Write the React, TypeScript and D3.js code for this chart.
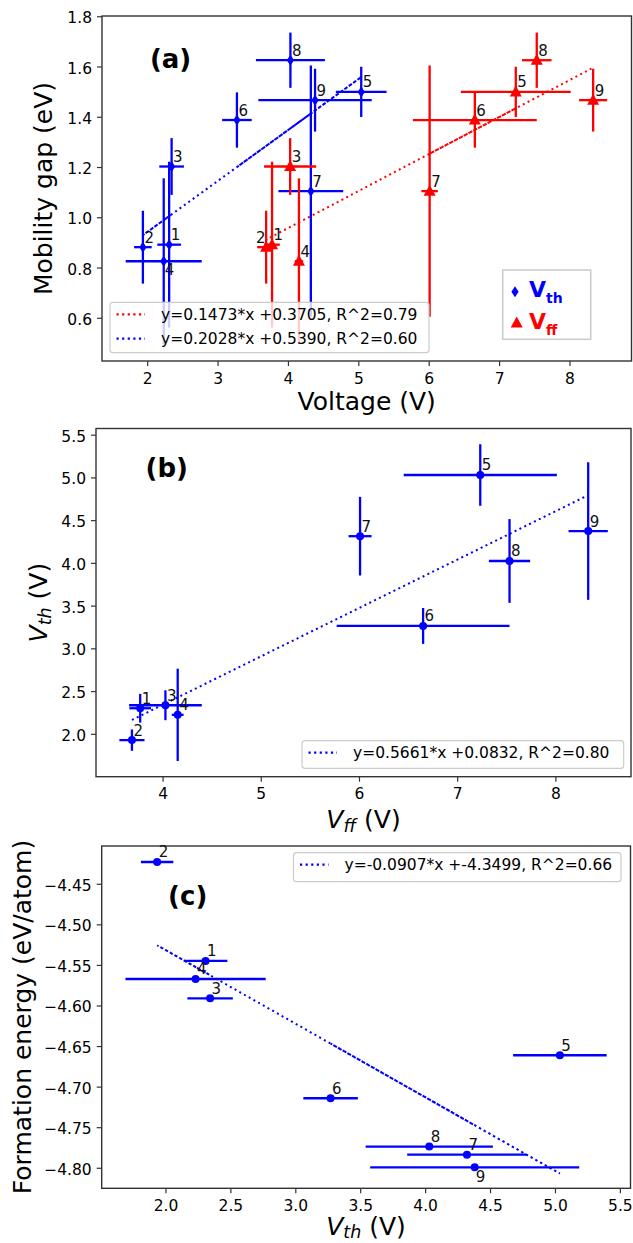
import * as d3 from "d3";
import React from "react";

// sample ids 1..9
const ids = ["1", "2", "3", "4", "5", "6", "7", "8", "9"];
// threshold voltage Vth (V) and its spread
const vth = [2.305, 1.932, 2.34, 2.228, 5.034, 3.268, 4.318, 4.028, 4.378];
const vthErr = [0.168, 0.125, 0.175, 0.54, 0.36, 0.21, 0.46, 0.49, 0.805];
// Vff (V)
const vff = [3.767, 3.683, 4.024, 4.149, 7.23, 6.648, 6.006, 7.528, 8.329];
const vffErr = [0.11, 0.128, 0.37, 0.06, 0.78, 0.88, 0.117, 0.21, 0.2];
// mobility gap (eV)
const gap = [0.893, 0.883, 1.204, 0.827, 1.501, 1.389, 1.106, 1.627, 1.468];
const gapErr = [0.33, 0.145, 0.113, 0.33, 0.1, 0.11, 0.5, 0.11, 0.125];
// formation energy (eV/atom)
const formE = [-4.5445, -4.4225, -4.5905, -4.5667, -4.6607, -4.7137, -4.7832, -4.7733, -4.7988];

// linear fits shown in the legends
const fitGapFf = [0.1473, 0.3705];
const fitGapTh = [0.2028, 0.539];
const fitThFf = [0.5661, 0.0832];
const fitEth = [-0.0907, -4.3499];

const ticksAx = [2, 3, 4, 5, 6, 7, 8];
const ticksAy = [0.6, 0.8, 1.0, 1.2, 1.4, 1.6, 1.8];
const ticksBx = [4, 5, 6, 7, 8];
const ticksBy = [2.0, 2.5, 3.0, 3.5, 4.0, 4.5, 5.0, 5.5];
const ticksCx = [2.0, 2.5, 3.0, 3.5, 4.0, 4.5, 5.0, 5.5];
const ticksCy = [-4.8, -4.75, -4.7, -4.65, -4.6, -4.55, -4.5, -4.45];

const W = 633;
const H = 1243;
const FONT = "DejaVu Sans, sans-serif";
const BLUE = "#0000ff";
const RED = "#ff0000";

const fmt1 = (d: number) => d3.format(".1f")(d);
const fmtInt = (d: number) => String(d);
const fmt2 = (d: number) => d3.format(".2f")(d).replace("-", "\u2212");

const Frame = ({ x, y, xTicks, yTicks, xFmt, yFmt }: any) => {
  const [x0, x1] = x.range();
  const [y0, y1] = y.range();
  return (
    <g fontFamily={FONT} fontSize={15.5} fill="#000">
      <rect x={x0} y={y1} width={x1 - x0} height={y0 - y1} fill="none" stroke="#333" strokeWidth={1.4} />
      {xTicks.map((t: number) => (
        <g key={"x" + t}>
          <line x1={x(t)} x2={x(t)} y1={y0} y2={y0 + 5} stroke="#333" strokeWidth={1.2} />
          <text x={x(t)} y={y0 + 22.5} textAnchor="middle">{xFmt(t)}</text>
        </g>
      ))}
      {yTicks.map((t: number) => (
        <g key={"y" + t}>
          <line x1={x0} x2={x0 - 5} y1={y(t)} y2={y(t)} stroke="#333" strokeWidth={1.2} />
          <text x={x0 - 10} y={y(t) + 6.5} textAnchor="end">{yFmt(t)}</text>
        </g>
      ))}
    </g>
  );
};

const ErrBars = ({ xs, ys, xe, ye, x, y, color }: any) => (
  <g stroke={color} strokeWidth={2.3}>
    {xs.map((v: number, i: number) => (
      <g key={i}>
        {xe && <line x1={x(v - xe[i])} x2={x(v + xe[i])} y1={y(ys[i])} y2={y(ys[i])} />}
        {ye && <line x1={x(v)} x2={x(v)} y1={y(ys[i] - ye[i])} y2={y(ys[i] + ye[i])} />}
      </g>
    ))}
  </g>
);

const diamond = "M0,-5.5L3.6,0L0,5.5L-3.6,0Z";
const triangle = "M0,-6.5L6,4.5L-6,4.5Z";

// fit line through the fitted values, in data order unless sorted
const FitLine = ({ xs, fit, x, y, color, sorted }: any) => {
  const line = d3
    .line<number>()
    .x((v) => x(v))
    .y((v) => y(fit[0] * v + fit[1]));
  const pts = sorted ? [...xs].sort(d3.ascending) : xs;
  return <path d={line(pts) || ""} fill="none" stroke={color} strokeWidth={2} strokeDasharray="2,3.4" />;
};

const Labels = ({ xs, ys, x, y, nudge }: any) => (
  <g fontFamily={FONT} fontSize={15} fill="#111">
    {xs.map((v: number, i: number) => {
      const n = (nudge && nudge[ids[i]]) || [1.5, -4.5, "start"];
      return (
        <text key={i} x={x(v) + n[0]} y={y(ys[i]) + n[1]} textAnchor={n[2]}>
          {ids[i]}
        </text>
      );
    })}
  </g>
);

const FitLegend = ({ x, y, w, h, rows }: any) => (
  <g fontFamily={FONT} fontSize={15.5}>
    <rect x={x} y={y} width={w} height={h} rx={3} fill="#fff" fillOpacity={0.8} stroke="#cccccc" strokeWidth={1.2} />
    {rows.map((r: any, i: number) => (
      <g key={i}>
        <line x1={x + 6.5} x2={x + 35} y1={y + 12 + i * 24.3} y2={y + 12 + i * 24.3} stroke={r.color} strokeWidth={2.2} strokeDasharray="2.2,3.4" />
        <text x={x + 51} y={y + 17.6 + i * 24.3} fill="#000">{r.text}</text>
      </g>
    ))}
  </g>
);

const App = () => {
  // panel (a)
  const ax = d3.scaleLinear().domain([1.351, 8.874]).range([102, 631.5]);
  const ay = d3.scaleLinear().domain([0.43, 1.803]).range([361, 16]);
  // panel (b)
  const bx = d3.scaleLinear().domain([3.317, 8.765]).range([96, 631]);
  const by = d3.scaleLinear().domain([1.504, 5.578]).range([776.7, 428.5]);
  // panel (c)
  const cx = d3.scaleLinear().domain([1.505, 5.578]).range([101.7, 630.5]);
  const cy = d3.scaleLinear().domain([-4.8247, -4.4028]).range([1188.3, 846]);

  return (
    <svg width={W} height={H} style={{ position: "absolute", left: 0, top: 0, background: "#fff" }}>
      {/* ---------- (a) ---------- */}
      <Frame x={ax} y={ay} xTicks={ticksAx} yTicks={ticksAy} xFmt={fmtInt} yFmt={fmt1} />
      <FitLine xs={vff} fit={fitGapFf} x={ax} y={ay} color={RED} />
      <FitLine xs={vth} fit={fitGapTh} x={ax} y={ay} color={BLUE} />
      <ErrBars xs={vth} ys={gap} xe={vthErr} ye={gapErr} x={ax} y={ay} color={BLUE} />
      <ErrBars xs={vff} ys={gap} xe={vffErr} ye={gapErr} x={ax} y={ay} color={RED} />
      {vth.map((v, i) => (
        <path key={"d" + i} d={diamond} transform={`translate(${ax(v)},${ay(gap[i])})`} fill={BLUE} />
      ))}
      {vff.map((v, i) => (
        <path key={"t" + i} d={triangle} transform={`translate(${ax(v)},${ay(gap[i])})`} fill={RED} />
      ))}
      <Labels xs={vth} ys={gap} x={ax} y={ay} nudge={{ "4": [1, 14, "start"] }} />
      <Labels xs={vff} ys={gap} x={ax} y={ay} nudge={{ "2": [-0.5, -4.5, "end"] }} />
      <FitLegend
        x={110}
        y={302.3}
        w={319}
        h={50.4}
        rows={[
          { color: RED, text: "y=0.1473*x +0.3705, R^2=0.79" },
          { color: BLUE, text: "y=0.2028*x +0.5390, R^2=0.60" },
        ]}
      />
      <g>
        <rect x={502.7} y={270} width={88} height={69.3} fill="#fff" stroke="#cccccc" strokeWidth={1.6} />
        <path d={diamond} transform="translate(515,291.7)" fill={BLUE} />
        <path d={triangle} transform="translate(516.7,323)" fill={RED} />
        <text x={529} y={296.7} fontFamily={FONT} fontWeight="bold" fontSize={22} fill={BLUE}>
          V<tspan fontSize={14} dy={6.6}>th</tspan>
        </text>
        <text x={529} y={329.3} fontFamily={FONT} fontWeight="bold" fontSize={22} fill={RED}>
          V<tspan fontSize={14} dy={5.7}>ff</tspan>
        </text>
      </g>
      <text x={170.6} y={68.3} textAnchor="middle" fontFamily={FONT} fontWeight="bold" fontSize={26}>(a)</text>
      <text x={366.7} y={410} textAnchor="middle" fontFamily={FONT} fontSize={25}>Voltage (V)</text>
      <text transform="translate(52,188.5) rotate(-90)" textAnchor="middle" fontFamily={FONT} fontSize={25}>
        Mobility gap (eV)
      </text>

      {/* ---------- (b) ---------- */}
      <Frame x={bx} y={by} xTicks={ticksBx} yTicks={ticksBy} xFmt={fmtInt} yFmt={fmt1} />
      <FitLine xs={vff} fit={fitThFf} x={bx} y={by} color={BLUE} sorted />
      <ErrBars xs={vff} ys={vth} xe={vffErr} ye={vthErr} x={bx} y={by} color={BLUE} />
      {vff.map((v, i) => (
        <circle key={"b" + i} cx={bx(v)} cy={by(vth[i])} r={4} fill={BLUE} />
      ))}
      <Labels xs={vff} ys={vth} x={bx} y={by} />
      <FitLegend x={302} y={740.7} w={321.7} h={27.6} rows={[{ color: BLUE, text: "y=0.5661*x +0.0832, R^2=0.80" }]} />
      <text x={166.7} y={476.6} textAnchor="middle" fontFamily={FONT} fontWeight="bold" fontSize={26}>(b)</text>
      <text x={363.5} y={828} textAnchor="middle" fontFamily={FONT} fontSize={25}>
        <tspan fontStyle="italic">V</tspan>
        <tspan fontStyle="italic" fontSize={17.5} dy={4}>ff</tspan>
        <tspan dy={-4}> (V)</tspan>
      </text>
      <text transform="translate(47,602.6) rotate(-90)" textAnchor="middle" fontFamily={FONT} fontSize={25}>
        <tspan fontStyle="italic">V</tspan>
        <tspan fontStyle="italic" fontSize={17.5} dy={4}>th</tspan>
        <tspan dy={-4}> (V)</tspan>
      </text>

      {/* ---------- (c) ---------- */}
      <Frame x={cx} y={cy} xTicks={ticksCx} yTicks={ticksCy} xFmt={fmt1} yFmt={fmt2} />
      <FitLine xs={vth} fit={fitEth} x={cx} y={cy} color={BLUE} />
      <ErrBars xs={vth} ys={formE} xe={vthErr} x={cx} y={cy} color={BLUE} />
      {vth.map((v, i) => (
        <circle key={"c" + i} cx={cx(v)} cy={cy(formE[i])} r={4} fill={BLUE} />
      ))}
      <Labels xs={vth} ys={formE} x={cx} y={cy} nudge={{ "9": [1, 14.5, "start"] }} />
      <FitLegend x={293.5} y={852.7} w={327.5} h={29} rows={[{ color: BLUE, text: "y=-0.0907*x +-4.3499, R^2=0.66" }]} />
      <text x={187.7} y={905} textAnchor="middle" fontFamily={FONT} fontWeight="bold" fontSize={26}>(c)</text>
      <text x={366} y={1234.5} textAnchor="middle" fontFamily={FONT} fontSize={25}>
        <tspan fontStyle="italic">V</tspan>
        <tspan fontStyle="italic" fontSize={17.5} dy={3.5}>th</tspan>
        <tspan dy={-3.5}> (V)</tspan>
      </text>
      <text transform="translate(31,1017) rotate(-90)" textAnchor="middle" fontFamily={FONT} fontSize={25}>
        Formation energy (eV/atom)
      </text>
    </svg>
  );
};

export default App;
